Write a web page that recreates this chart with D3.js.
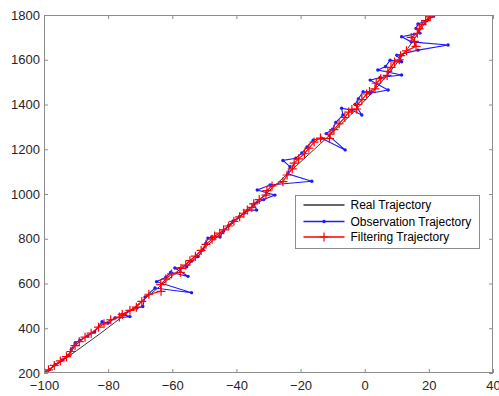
<!DOCTYPE html>
<html>
<head>
<meta charset="utf-8">
<script src="https://cdn.jsdelivr.net/npm/d3@7"></script>
<style>
  html, body { margin: 0; padding: 0; background: #fff; }
  svg { display: block; font-family: "Liberation Sans", Arial, Helvetica, sans-serif; }
</style>
</head>
<body>
<div id="chart"></div>
<script>
// ticks
const xTicks = [-100, -80, -60, -40, -20, 0, 20, 40];
const yTicks = [200, 400, 600, 800, 1000, 1200, 1400, 1600, 1800];

// real trajectory
const realX = [-100, -97.4, -94.8, -92.3, -89.8, -87.4, -85.0, -82.6, -80.3, -78.0, -75.7, -73.5, -71.3, -69.1, -67.0, -64.9, -62.8, -60.7, -58.7, -56.7, -54.7, -52.7, -50.7, -48.7, -46.7, -44.7, -42.7, -40.7, -38.7, -36.7, -34.7, -32.8, -30.9, -29.0, -27.1, -25.2, -23.3, -21.4, -19.5, -17.6, -15.7, -13.8, -11.9, -10.0, -8.2, -6.4, -4.6, -2.9, -1.2, 0.5, 2.1, 3.7, 5.2, 6.7, 8.1, 9.5, 10.8, 12.1, 13.4, 14.6, 15.8, 17.0, 18.1, 19.2, 20.3];
const realY = [200, 225, 250, 275, 300, 325, 350, 375, 400, 425, 450, 475, 500, 525, 550, 575, 600, 625, 650, 675, 700, 725, 750, 775, 800, 825, 850, 875, 900, 925, 950, 975, 1000, 1025, 1050, 1075, 1100, 1125, 1150, 1175, 1200, 1225, 1250, 1275, 1300, 1325, 1350, 1375, 1400, 1425, 1450, 1475, 1500, 1525, 1550, 1575, 1600, 1625, 1650, 1675, 1700, 1725, 1750, 1775, 1800];

// observations
const obsX = [-99.5, -98.3, -96.5, -94.3, -92.4, -91.5, -90.3, -88.8, -86.4, -84.2, -81.9, -80.0, -77.9, -73.2, -75.7, -71.0, -69.2, -68.5, -65.4, -54.0, -64.9, -62.0, -60.5, -55.1, -59.2, -55.5, -54.0, -52.0, -50.4, -49.5, -48.9, -47.7, -45.1, -44.0, -42.5, -41.0, -39.0, -37.5, -36.4, -33.7, -34.5, -31.5, -28.0, -33.5, -29.5, -16.5, -24.0, -23.3, -25.5, -21.5, -19.6, -18.0, -16.1, -13.4, -6.1, -12.0, -10.0, -9.0, -6.8, -7.2, -4.1, -0.9, -3.0, -2.0, -0.5, 1.7, 7.3, 1.7, 4.8, 11.5, 4.1, 6.5, 7.9, 11.5, 10.0, 16.6, 26.0, 14.5, 11.5, 17.2, 16.0, 16.6, 19.3, 21.5, 20.5];
const obsY = [203, 215, 237, 258, 277, 305, 334, 347, 366, 384, 429, 423, 446, 452, 462, 490, 497, 540, 580, 559, 608, 628, 650, 632, 669, 675, 700, 720, 750, 780, 803, 806, 808, 835, 858, 880, 900, 915, 928, 928, 955, 975, 995, 1018, 1040, 1057, 1090, 1122, 1150, 1160, 1183, 1210, 1241, 1249, 1197, 1270, 1290, 1320, 1353, 1383, 1375, 1353, 1400, 1425, 1457, 1450, 1465, 1509, 1521, 1532, 1554, 1570, 1598, 1591, 1620, 1643, 1666, 1680, 1703, 1719, 1740, 1760, 1774, 1795, 1812];

// filtered estimates
const filtX = [-99.8, -98.6, -96.8, -94.9, -93.0, -91.6, -90.3, -89.0, -87.2, -85.3, -83.0, -81.3, -79.2, -76.5, -75.6, -73.2, -71.2, -69.5, -67.3, -63.5, -63.6, -62.0, -60.2, -57.5, -57.3, -55.8, -54.5, -52.8, -51.0, -49.5, -47.6, -46.8, -45.2, -44.0, -42.4, -40.8, -39.0, -37.7, -36.6, -35.2, -34.6, -32.9, -30.8, -30.5, -28.9, -25.5, -24.2, -22.6, -22.0, -20.6, -18.8, -17.4, -15.8, -13.8, -11.0, -10.8, -9.6, -8.0, -6.2, -5.0, -4.0, -2.5, -2.2, -0.9, 0.6, 1.5, 3.2, 3.6, 5.0, 7.0, 7.2, 8.2, 9.3, 10.8, 11.2, 13.0, 16.0, 15.5, 14.5, 16.4, 17.0, 17.8, 19.0, 20.4, 21.0];
const filtY = [202, 214, 234, 254, 273, 296, 322, 340, 360, 378, 405, 420, 438, 450, 462, 480, 494, 520, 552, 565, 595, 620, 643, 650, 668, 682, 702, 722, 748, 775, 798, 812, 825, 840, 857, 878, 898, 914, 928, 940, 956, 975, 995, 1015, 1036, 1055, 1085, 1112, 1138, 1157, 1180, 1205, 1232, 1250, 1248, 1268, 1288, 1314, 1342, 1366, 1378, 1380, 1400, 1422, 1447, 1458, 1470, 1495, 1515, 1530, 1548, 1566, 1590, 1600, 1618, 1640, 1660, 1682, 1700, 1718, 1738, 1757, 1775, 1792, 1808];

const seriesNames = ["Real Trajectory", "Observation Trajectory", "Filtering Trajectory"];

const W = 499, H = 396;
const margin = { top: 15, right: 6, bottom: 23, left: 44 };
const width = W - margin.left - margin.right;
const height = H - margin.top - margin.bottom;

const axisColor = "#8c8c8c";
const textColor = "#262626";
const colors = { real: "#333333", obs: "#1a1aff", filt: "#ff0000" };

const x = d3.scaleLinear().domain([-100, 40]).range([0, width]);
const y = d3.scaleLinear().domain([200, 1800]).range([height, 0]);

const zip = (xs, ys) => xs.map((v, i) => [v, ys[i]]);
const realData = zip(realX, realY);
const obsData = zip(obsX, obsY);
const filtData = zip(filtX, filtY);

const svg = d3.select("#chart").append("svg")
    .attr("width", W)
    .attr("height", H);

const g = svg.append("g")
    .attr("transform", `translate(${margin.left},${margin.top})`);

g.append("defs").append("clipPath")
    .attr("id", "plotClip")
    .append("rect")
    .attr("width", width)
    .attr("height", height);

// axes, ticks pointing inward like matlab
const styleAxis = sel => {
    sel.select(".domain").remove();
    sel.selectAll(".tick line").attr("stroke", axisColor);
    sel.selectAll(".tick text")
        .attr("fill", textColor)
        .style("font-size", "13px");
};

const fmt = d3.format("d");

g.append("g")
    .attr("transform", `translate(0,${height})`)
    .call(d3.axisBottom(x).tickValues(xTicks).tickFormat(fmt).tickSizeInner(-4).tickSizeOuter(0).tickPadding(8))
    .call(styleAxis);

g.append("g")
    .call(d3.axisLeft(y).tickValues(yTicks).tickFormat(fmt).tickSizeInner(-4).tickSizeOuter(0).tickPadding(4))
    .call(styleAxis);

g.append("g")
    .call(d3.axisTop(x).tickValues(xTicks).tickSizeInner(-4).tickSizeOuter(0).tickFormat(""))
    .call(styleAxis);

g.append("g")
    .attr("transform", `translate(${width},0)`)
    .call(d3.axisRight(y).tickValues(yTicks).tickSizeInner(-4).tickSizeOuter(0).tickFormat(""))
    .call(styleAxis);

const line = d3.line().x(d => x(d[0])).y(d => y(d[1]));

const plot = g.append("g").attr("clip-path", "url(#plotClip)");

plot.append("path")
    .datum(realData)
    .attr("fill", "none")
    .attr("stroke", colors.real)
    .attr("stroke-width", 1)
    .attr("d", line);

plot.append("path")
    .datum(obsData)
    .attr("fill", "none")
    .attr("stroke", colors.obs)
    .attr("stroke-width", 1.1)
    .attr("d", line);

plot.selectAll(".obsDot")
    .data(obsData)
    .enter()
    .append("circle")
    .attr("class", "obsDot")
    .attr("cx", d => x(d[0]))
    .attr("cy", d => y(d[1]))
    .attr("r", 1.7)
    .attr("fill", colors.obs);

plot.append("path")
    .datum(filtData)
    .attr("fill", "none")
    .attr("stroke", colors.filt)
    .attr("stroke-width", 1.2)
    .attr("d", line);

const plus = (sel, s) => sel.append("path")
    .attr("d", `M${-s},0H${s}M0,${-s}V${s}`)
    .style("stroke", colors.filt)
    .style("stroke-width", 1.2)
    .style("fill", "none");

plot.selectAll(".filtMark")
    .data(filtData)
    .enter()
    .append("g")
    .attr("class", "filtMark")
    .attr("transform", d => `translate(${x(d[0])},${y(d[1])})`)
    .call(plus, 4.5);

// box
g.append("rect")
    .attr("x", 0.5)
    .attr("y", 0.5)
    .attr("width", width - 1)
    .attr("height", height - 1)
    .attr("fill", "none")
    .attr("stroke", axisColor)
    .attr("stroke-width", 1);

// legend
const legend = g.append("g")
    .attr("transform", `translate(${295.5 - margin.left},${195.5 - margin.top})`);

legend.append("rect")
    .attr("width", 184)
    .attr("height", 53)
    .attr("fill", "#fff")
    .attr("stroke", axisColor)
    .attr("stroke-width", 1);

const rowY = [9.5, 26, 41.5];
const rowColor = [colors.real, colors.obs, colors.filt];

seriesNames.forEach((name, i) => {
    const row = legend.append("g").attr("transform", `translate(0,${rowY[i]})`);
    row.append("line")
        .attr("x1", 8).attr("x2", 49)
        .attr("y1", 0).attr("y2", 0)
        .style("stroke", rowColor[i])
        .style("stroke-width", 1.3);
    if (i === 1) {
        row.append("circle").attr("cx", 28.5).attr("r", 1.7).attr("fill", colors.obs);
    }
    if (i === 2) {
        row.append("g").attr("transform", "translate(28.5,0)").call(plus, 4.5);
    }
    row.append("text")
        .attr("x", 55)
        .attr("dy", "0.35em")
        .attr("fill", "#000")
        .style("font-size", "12px")
        .text(name);
});
</script>
</body>
</html>
